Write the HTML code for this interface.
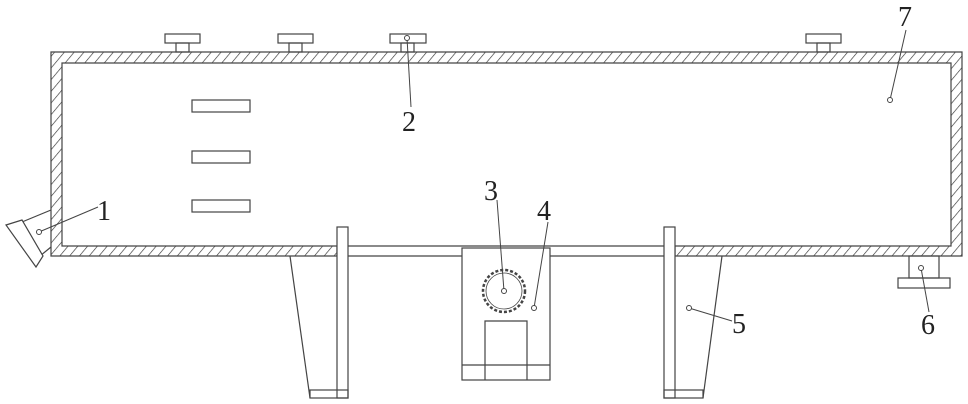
<!DOCTYPE html>
<html><head><meta charset="utf-8"><style>html,body{margin:0;padding:0;background:#fff}svg{display:block}</style></head><body>
<svg width="968" height="404" viewBox="0 0 968 404" xmlns="http://www.w3.org/2000/svg">
<defs>
<pattern id="h" patternUnits="userSpaceOnUse" width="7.5" height="9" patternTransform="rotate(40)">
<line x1="0" y1="0" x2="0" y2="9" stroke="#333" stroke-width="1.3"/>
</pattern>
</defs>
<g stroke="#444" stroke-width="1.2" fill="none">
<path d="M51,52 H962 V256 H675 V246 H951 V63 H62 V246 H337 V256 H51 Z" fill="url(#h)"/>
<line x1="348" y1="246" x2="664" y2="246"/>
<line x1="348" y1="256" x2="664" y2="256"/>
<rect x="337" y="227" width="11" height="171" fill="#fff"/>
<rect x="664" y="227" width="11" height="171" fill="#fff"/>
<line x1="290" y1="256" x2="310" y2="398"/>
<rect x="310" y="390" width="38" height="8"/>
<line x1="722" y1="256" x2="703" y2="398"/>
<rect x="664" y="390" width="39" height="8"/>
<rect x="462" y="248" width="88" height="132" fill="#fff"/>
<path d="M485,380 V321 H527 V380"/>
<line x1="462" y1="365" x2="550" y2="365"/>
<circle cx="504" cy="291" r="21" stroke-dasharray="3 2" stroke-width="2.5"/>
<circle cx="504" cy="291" r="18" stroke-width="0.8"/>
<rect x="165" y="34" width="35" height="9"/><rect x="176" y="43" width="13" height="9"/>
<rect x="278" y="34" width="35" height="9"/><rect x="289" y="43" width="13" height="9"/>
<rect x="390" y="34" width="36" height="9"/><rect x="401" y="43" width="13" height="9"/>
<rect x="806" y="34" width="35" height="9"/><rect x="817" y="43" width="13" height="9"/>
<rect x="909" y="256" width="30" height="22"/>
<rect x="898" y="278" width="52" height="10"/>
<rect x="192" y="100" width="58" height="12"/>
<rect x="192" y="151" width="58" height="12"/>
<rect x="192" y="200" width="58" height="12"/>
<line x1="51" y1="210" x2="22" y2="222"/>
<line x1="51" y1="247" x2="40" y2="256"/>
<polygon points="6,225 22,220 43,256 36,267" fill="#fff"/>
<g stroke-width="1">
<line x1="39" y1="232" x2="98" y2="207"/>
<line x1="407" y1="38" x2="411" y2="107"/>
<line x1="504" y1="291" x2="497" y2="200"/>
<line x1="534" y1="308" x2="548" y2="222"/>
<line x1="689" y1="308" x2="732" y2="321"/>
<line x1="921" y1="268" x2="929" y2="312"/>
<line x1="890" y1="100" x2="906" y2="30"/>
</g>
<g fill="#fff" stroke-width="1">
<circle cx="39" cy="232" r="2.5"/><circle cx="407" cy="38" r="2.5"/><circle cx="504" cy="291" r="2.5"/>
<circle cx="534" cy="308" r="2.5"/><circle cx="689" cy="308" r="2.5"/><circle cx="921" cy="268" r="2.5"/><circle cx="890" cy="100" r="2.5"/>
</g>
</g>
<g font-family="Liberation Serif, serif" font-size="28" fill="#222" text-anchor="middle">
<text x="104" y="220">1</text>
<text x="409" y="131">2</text>
<text x="491" y="200">3</text>
<text x="544" y="220">4</text>
<text x="739" y="333">5</text>
<text x="928" y="334">6</text>
<text x="905" y="26">7</text>
</g>
</svg>
</body></html>
